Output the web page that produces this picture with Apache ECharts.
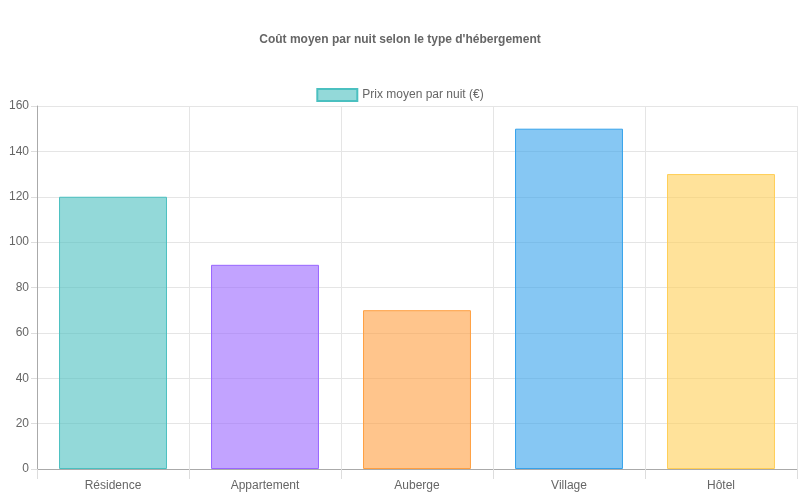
<!DOCTYPE html>
<html>
<head>
<meta charset="utf-8">
<script src="https://cdn.jsdelivr.net/npm/echarts@6/dist/echarts.min.js"></script>
<style>html,body{margin:0;padding:0;background:#fff}#main{width:800px;height:500px}</style>
</head>
<body>
<div id="main"></div>
<script>
var categories = ['Résidence', 'Appartement', 'Auberge', 'Village', 'Hôtel'];
var prices = [120, 90, 70, 150, 130];
var fills = ['rgba(75,192,192,0.6)', 'rgba(153,102,255,0.6)', 'rgba(255,159,64,0.6)', 'rgba(54,162,235,0.6)', 'rgba(255,206,86,0.6)'];
var borders = ['rgb(75,192,192)', 'rgb(153,102,255)', 'rgb(255,159,64)', 'rgb(54,162,235)', 'rgb(255,206,86)'];

var myChart = echarts.init(document.getElementById('main'));
var option = {
  animation: false,
  textStyle: { fontFamily: 'Liberation Sans, Arial, sans-serif' },
  title: {
    text: "Coût moyen par nuit selon le type d'hébergement",
    left: 'center', top: 29,
    textStyle: { fontSize: 12, fontWeight: 'bold', color: '#666' }
  },
  legend: {
    top: 83, left: 'center',
    itemWidth: 40, itemHeight: 12, icon: 'rect',
    textStyle: { fontSize: 12, color: '#666' },
    data: ['Prix moyen par nuit (€)']
  },
  grid: { left: 37, right: 3, top: 106, bottom: 31 },
  xAxis: {
    type: 'category',
    data: categories,
    axisLine: { lineStyle: { color: '#aaa' } },
    axisTick: { show: true, length: 10, lineStyle: { color: '#ddd' } },
    axisLabel: { color: '#666', fontSize: 12, margin: 11 },
    splitLine: { show: true, lineStyle: { color: '#e5e5e5' } }
  },
  yAxis: {
    type: 'value', min: 0, max: 160, interval: 20,
    axisLine: { show: true, lineStyle: { color: '#aaa' } },
    axisTick: { show: true, length: 6, lineStyle: { color: '#ddd' } },
    axisLabel: { color: '#666', fontSize: 12, margin: 8 },
    splitLine: { lineStyle: { color: '#e5e5e5' } }
  },
  series: [{
    name: 'Prix moyen par nuit (€)',
    type: 'bar',
    barWidth: '71%',
    itemStyle: { color: fills[0], borderColor: borders[0], borderWidth: 1 },
    data: prices.map(function (v, i) {
      return { value: v, itemStyle: { color: fills[i], borderColor: borders[i], borderWidth: 1 } };
    })
  }]
};
myChart.setOption(option);
</script>
</body>
</html>
